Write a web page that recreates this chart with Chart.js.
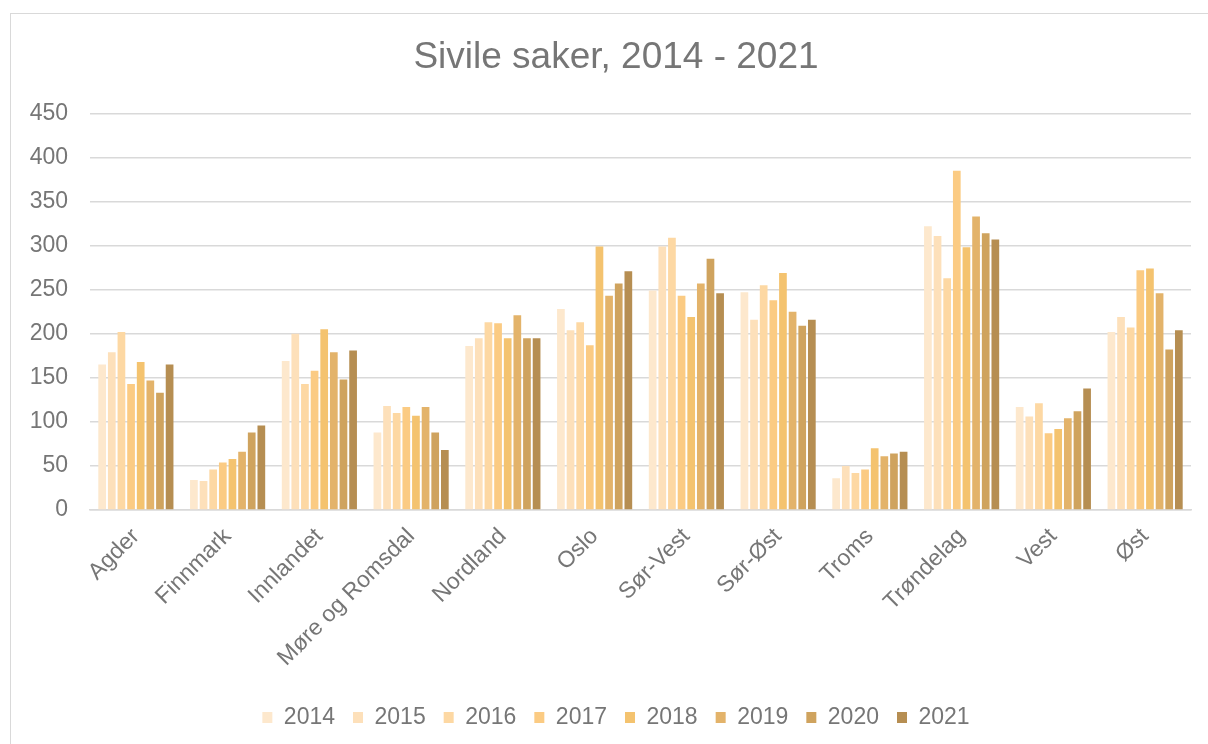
<!DOCTYPE html>
<html lang="no">
<head>
<meta charset="utf-8">
<title>Sivile saker, 2014 - 2021</title>
<script src="https://cdn.jsdelivr.net/npm/chart.js@4.4.1/dist/chart.umd.min.js"></script>
<style>
  html, body { margin: 0; padding: 0; background: #ffffff; overflow: hidden; width: 1208px; height: 744px; }
  #ramme { position: absolute; left: 10px; top: 13px; width: 1220px; height: 760px; border: 1px solid #d9d9d9; }
  #graf { position: absolute; left: 1px; top: 1px; }
</style>
</head>
<body>
<div id="ramme">
  <canvas id="graf" width="1208" height="730"></canvas>
</div>
<script>
// Regiones (categorías del eje x)
const regioner = ['Agder', 'Finnmark', 'Innlandet', 'Møre og Romsdal', 'Nordland', 'Oslo',
  'Sør-Vest', 'Sør-Øst', 'Troms', 'Trøndelag', 'Vest', 'Øst'];

// Años de la leyenda
const aar = ['2014', '2015', '2016', '2017', '2018', '2019', '2020', '2021'];

// Número de casos por año (un valor por región)
const saker2014 = [165, 34, 169, 88, 186, 228, 249, 247, 36, 322, 117, 202];
const saker2015 = [179, 33, 200, 118, 195, 204, 299, 216, 50, 311, 106, 219];
const saker2016 = [202, 46, 143, 110, 213, 213, 309, 255, 42, 263, 121, 207];
const saker2017 = [143, 54, 158, 117, 212, 187, 243, 238, 46, 385, 87, 272];
const saker2018 = [168, 58, 205, 107, 195, 299, 219, 269, 70, 298, 92, 274];
const saker2019 = [147, 66, 179, 117, 221, 243, 257, 225, 61, 333, 104, 246];
const saker2020 = [133, 88, 148, 88, 195, 257, 285, 209, 64, 314, 112, 182];
const saker2021 = [165, 96, 181, 68, 195, 271, 246, 216, 66, 307, 138, 204];

// Etiquetas del eje y
const yTicks = [0, 50, 100, 150, 200, 250, 300, 350, 400, 450];

// Colores de cada año, de claro a oscuro
const farger = ['#FDE8CD', '#FDE0BA', '#FDD8A3', '#FBCB83', '#F4C36F', '#E3B36A', '#CFA35E', '#B68E52'];

const tekstFarge = '#767676';
const fontFamilie = '"Liberation Sans", Arial, sans-serif';

// Construir los datasets a partir de los arrays
const serier = [saker2014, saker2015, saker2016, saker2017, saker2018, saker2019, saker2020, saker2021];
const datasets = serier.map((data, i) => ({
  label: aar[i],
  data: data,
  backgroundColor: farger[i],
  borderWidth: 0,
  categoryPercentage: 0.84,
  barPercentage: 0.8
}));

const ctx = document.getElementById('graf').getContext('2d');

// Crear el gráfico de barras agrupadas
new Chart(ctx, {
  type: 'bar',
  data: {
    labels: regioner,
    datasets: datasets
  },
  options: {
    responsive: false,
    animation: false,
    layout: {
      padding: { left: 0, right: 0, top: 0, bottom: 6 }
    },
    plugins: {
      title: {
        display: true,
        text: 'Sivile saker, 2014 - 2021',
        color: tekstFarge,
        font: { family: fontFamilie, size: 37, weight: 'normal' },
        padding: { top: 21, bottom: 33 }
      },
      legend: {
        position: 'bottom',
        labels: {
          color: tekstFarge,
          font: { family: fontFamilie, size: 23 },
          boxWidth: 10,
          boxHeight: 11,
          padding: 18
        }
      },
      tooltip: { enabled: false }
    },
    scales: {
      x: {
        grid: { display: false, drawTicks: false },
        border: { display: true, color: '#d9d9d9', width: 1.5 },
        ticks: {
          color: tekstFarge,
          font: { family: fontFamilie, size: 23 },
          minRotation: 45,
          maxRotation: 45,
          padding: 13,
          autoSkip: false
        },
        afterFit: (scale) => { scale.height = 178; }
      },
      y: {
        min: 0,
        max: 450,
        afterBuildTicks: (scale) => { scale.ticks = yTicks.map(v => ({ value: v })); },
        grid: { color: '#d9d9d9', lineWidth: 1.5, drawTicks: false },
        border: { display: false },
        ticks: {
          color: tekstFarge,
          font: { family: fontFamilie, size: 23 },
          padding: 22
        },
        afterFit: (scale) => { scale.width = 78; }
      },
      // Eje vacío a la derecha, solo para dejar margen sin mover título ni leyenda
      margen: {
        type: 'linear',
        position: 'right',
        display: true,
        grid: { display: false, drawTicks: false },
        border: { display: false },
        ticks: { display: false },
        afterFit: (scale) => { scale.width = 29; }
      }
    }
  }
});
</script>
</body>
</html>
